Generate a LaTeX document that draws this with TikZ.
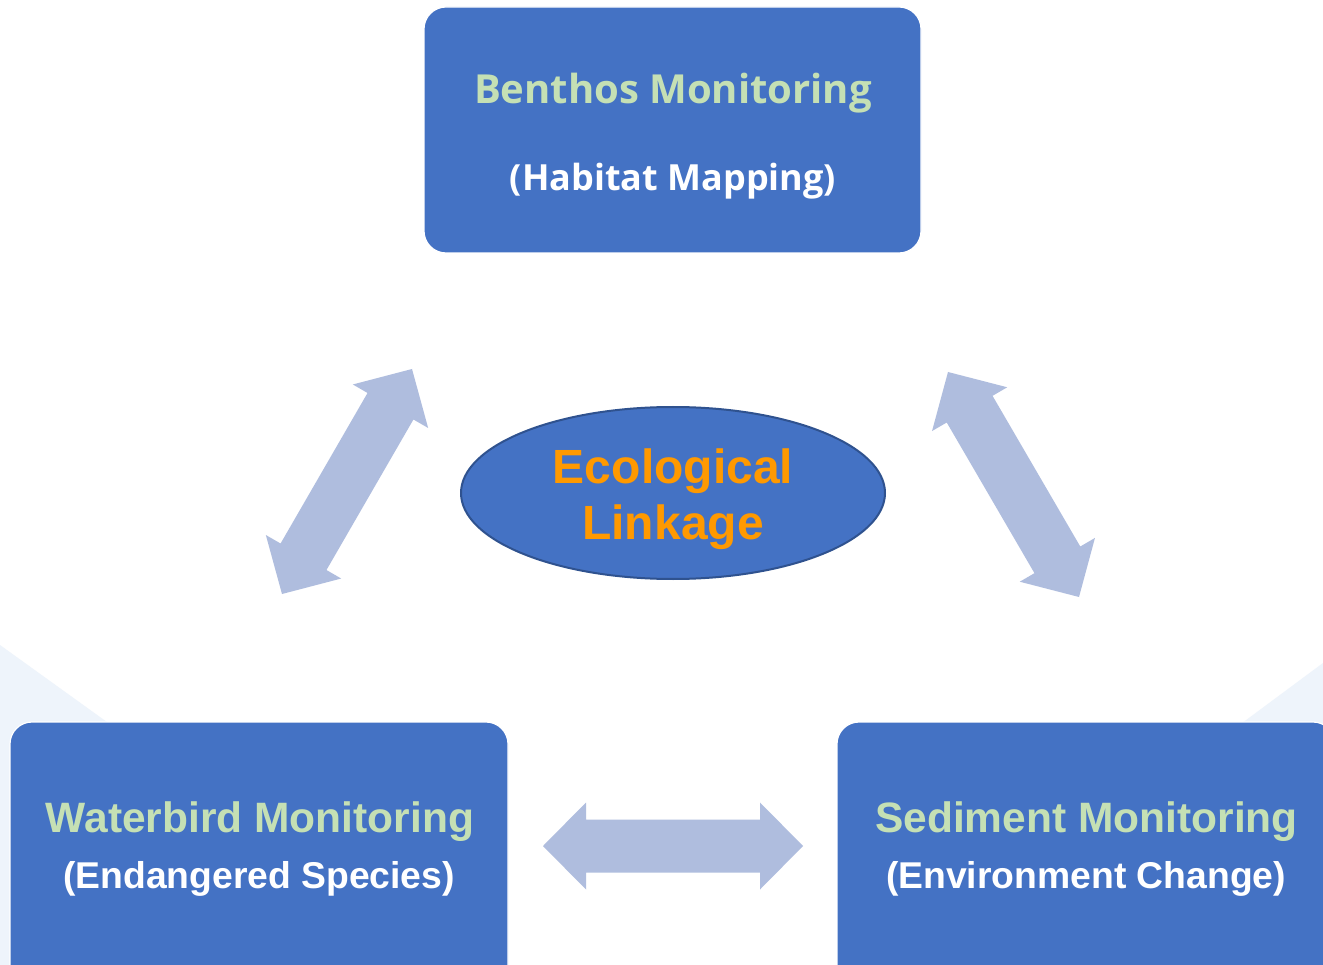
\documentclass[tikz,border=0pt]{standalone}
\usepackage{fontspec}
\setmainfont{Liberation Sans}
\newfontfamily\topfont{Open Sans}
\usetikzlibrary{calc,shapes.geometric}
\definecolor{boxblue}{RGB}{68,114,196}
\definecolor{edgeblue}{RGB}{47,82,143}
\definecolor{lightgreen}{RGB}{197,224,180}
\definecolor{linkorange}{RGB}{255,153,0}
\definecolor{arrowfill}{RGB}{175,189,222}
\definecolor{bgtint}{RGB}{238,244,251}
\newcommand\blockarrow[2]{%
  \fill[arrowfill] (#1)
    -- ($(#1)!43pt!(#2)!43.5pt!90:(#2)$)
    -- ($(#1)!43pt!(#2)!26.5pt!90:(#2)$)
    -- ($(#2)!43pt!(#1)!26.5pt!-90:(#1)$)
    -- ($(#2)!43pt!(#1)!43.5pt!-90:(#1)$)
    -- (#2)
    -- ($(#2)!43pt!(#1)!43.5pt!90:(#1)$)
    -- ($(#2)!43pt!(#1)!26.5pt!90:(#1)$)
    -- ($(#1)!43pt!(#2)!26.5pt!-90:(#2)$)
    -- ($(#1)!43pt!(#2)!43.5pt!-90:(#2)$)
    -- cycle;}
\begin{document}
\begin{tikzpicture}[x=1pt,y=-1pt,
  mbox/.style={rectangle, rounded corners=22pt, fill=boxblue, draw=white, line width=1.2pt, inner sep=0pt},
  txt/.style={anchor=base, inner sep=0pt},
  gtxt/.style={text=lightgreen},
  wtxt/.style={text=white}]
\useasboundingbox (0,0) rectangle (1323,965);
\clip (0,0) rectangle (1323,965);
\fill[color=white] (0,0) rectangle (1323,965);
% faint background shapes
\fill[bgtint] (0,645) -- (125,735) -- (125,965) -- (0,965) -- cycle;
\fill[bgtint] (1323,663) -- (1230,732) -- (1323,732) -- cycle;
% boxes
\node[mbox, minimum width=497pt, minimum height=246pt] (top) at (672.5,130) {};
\node[mbox, minimum width=498pt, minimum height=270pt] (wb) at (259,857) {};
\node[mbox, minimum width=498pt, minimum height=270pt] (sed) at (1086,857) {};
% ellipse
\node[ellipse, fill=boxblue, draw=edgeblue, line width=2pt, minimum width=424pt, minimum height=172pt, inner sep=0pt] (eco) at (673,493) {};
% texts
\node[txt, gtxt, font=\topfont\bfseries\fontsize{40}{48}\selectfont] (topA) at (673,104) {Benthos Monitoring};
\node[txt, wtxt, font=\topfont\bfseries\fontsize{36}{44}\selectfont] (topB) at (673,191) {(Habitat Mapping)};
\node[txt, gtxt, font=\bfseries\fontsize{42.5}{50}\selectfont] (wbA) at (260,832) {Waterbird Monitoring};
\node[txt, wtxt, font=\bfseries\fontsize{37.3}{44}\selectfont] (wbB) at (259,888) {(Endangered Species)};
\node[txt, gtxt, font=\bfseries\fontsize{42.5}{50}\selectfont] (sedA) at (1086.5,832) {Sediment Monitoring};
\node[txt, wtxt, font=\bfseries\fontsize{37.3}{44}\selectfont] (sedB) at (1086,888) {(Environment Change)};
\node[txt, text=linkorange, font=\bfseries\fontsize{48}{56}\selectfont] (ecoA) at (673,483) {Ecological};
\node[txt, text=linkorange, font=\bfseries\fontsize{48}{56}\selectfont] (ecoB) at (673,539) {Linkage};
% block arrows
\coordinate (la1) at (282,594);
\coordinate (la2) at (412,369);
\coordinate (ra1) at (948,372);
\coordinate (ra2) at (1079,597);
\coordinate (ha1) at (543,846);
\coordinate (ha2) at (803,846);
\blockarrow{la1}{la2}
\blockarrow{ra1}{ra2}
\blockarrow{ha1}{ha2}
\end{tikzpicture}
\end{document}
